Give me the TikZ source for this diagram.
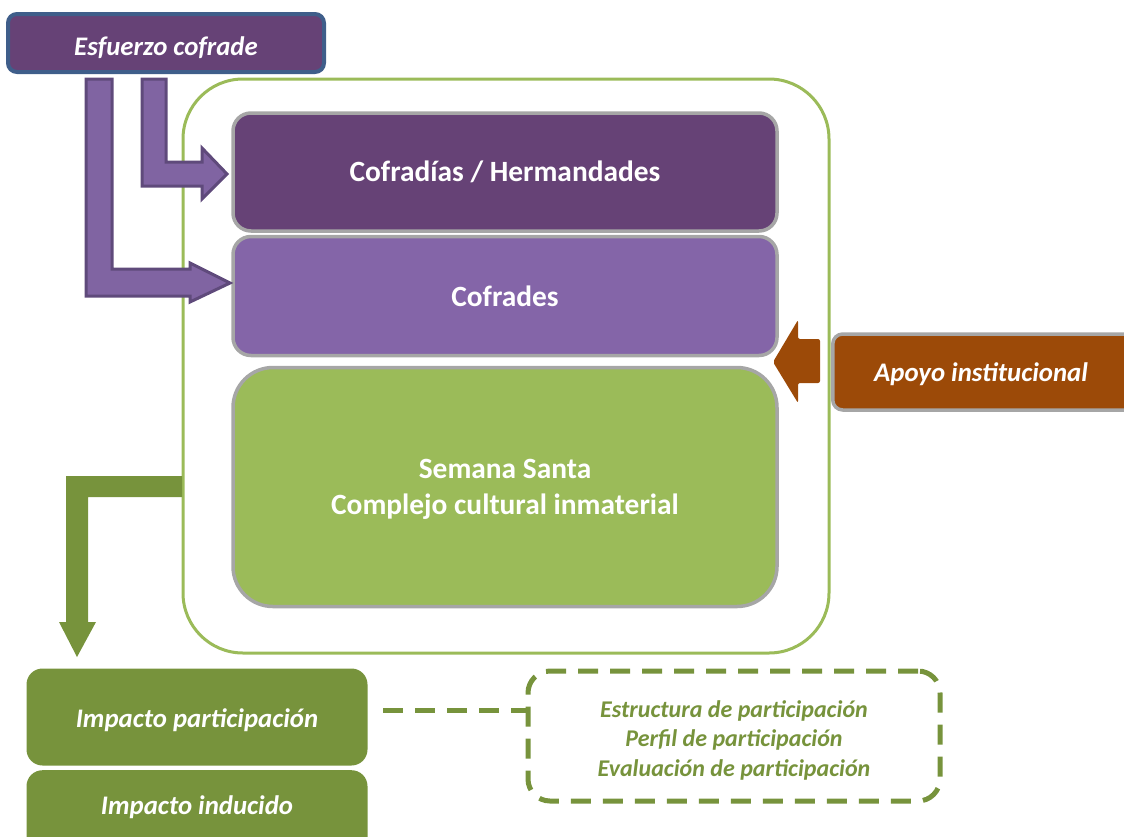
\documentclass[tikz,border=0pt]{standalone}
\usepackage{fontspec}
\setmainfont{Carlito}
\usetikzlibrary{calc}
\definecolor{dpurple}{HTML}{664276}
\definecolor{mpurple}{HTML}{8465A8}
\definecolor{apurple}{HTML}{8064A2}
\definecolor{astroke}{HTML}{5F4A7B}
\definecolor{eborder}{HTML}{3F5E8A}
\definecolor{lgreen}{HTML}{9BBB59}
\definecolor{dgreen}{HTML}{77933C}
\definecolor{brown}{HTML}{9C4A08}
\definecolor{gborder}{HTML}{A6A6A6}
\tikzset{
  box/.style={draw=gborder, line width=3.5pt, text=white, font=\bfseries\fontsize{29.4}{36}\selectfont, align=center, inner sep=0pt},
  ibox/.style={text=white, font=\bfseries\itshape\fontsize{26.8}{32}\selectfont, align=center, inner sep=0pt},
  purparrow/.style={fill=apurple, draw=astroke, line width=3pt, line join=miter},
  greenarrow/.style={fill=dgreen, draw=none},
  dashline/.style={draw=dgreen, line width=5pt, dash pattern=on 20pt off 12pt}
}
\begin{document}
\begin{tikzpicture}[x=1pt,y=-1pt]
\useasboundingbox (0,0) rectangle (1124,836);
% outer green frame
\draw[lgreen, line width=3pt, rounded corners=60pt] (183,79) rectangle (829,653);
% inner boxes
\node[box, fill=dpurple, rounded corners=18pt, minimum width=544pt, minimum height=118pt] (cof) at (505,172) {Cofradías / Hermandades};
\node[box, fill=mpurple, rounded corners=18pt, minimum width=544pt, minimum height=119pt] (cfr) at (505,296) {Cofrades};
\node[box, fill=lgreen, rounded corners=40pt, minimum width=544pt, minimum height=239pt] (ss) at (505,487) {};
\node[box, draw=none] (sst) at (505,489) {Semana Santa\\Complejo cultural inmaterial};
% Esfuerzo cofrade
\node[draw=eborder, fill=dpurple, line width=4pt, rounded corners=9pt, minimum width=316pt, minimum height=58pt] (esf) at (166,43) {};
\node[ibox] (esft) at (166,48) {Esfuerzo cofrade};
% Apoyo institucional
\node[draw=gborder, fill=brown, line width=3.5pt, rounded corners=10pt, minimum width=310pt, minimum height=76pt, anchor=west] (apo) at (831,372) {};
\node[ibox] (apot) at (981,374) {Apoyo institucional};
% purple arrows
\draw[purparrow] (142,79) -- (166,79) -- (166,162) -- (202,162) -- (202,148) -- (227,174) -- (202,199) -- (202,186) -- (142,186) -- cycle;
\draw[purparrow] (86,79) -- (112,79) -- (112,269) -- (190,269) -- (190,263) -- (230,283) -- (190,302) -- (190,296) -- (86,296) -- cycle;
% brown arrow
\fill[brown, rounded corners=2pt] (820,339) -- (820,383) -- (798,383) -- (798,403) -- (773,362) -- (798,320) -- (798,339) -- cycle;
% green arrow
\fill[greenarrow] (182,476) -- (182,497) -- (88,497) -- (88,622) -- (96,622) -- (77,657) -- (59,622) -- (66,622) -- (66,476) -- cycle;
% impact boxes
\node[fill=dgreen, rounded corners=16pt, minimum width=341pt, minimum height=97pt] (ip) at (197,717) {};
\node[ibox] (ipt) at (197,720) {Impacto participación};
\node[fill=dgreen, rounded corners=16pt, minimum width=341pt, minimum height=90pt, anchor=north] (ii) at (197,770) {};
\node[ibox] (iit) at (197,807) {Impacto inducido};
% dashed box
\node[draw=dgreen, line width=5pt, dash pattern=on 20pt off 12pt, rounded corners=22pt, minimum width=412pt, minimum height=130pt] (db) at (734,736) {};
\node[text=dgreen, font=\bfseries\itshape\fontsize{24}{29.5}\selectfont, align=center, inner sep=0pt] (dbt) at (734,740) {Estructura de participación\\Perfil de participación\\Evaluación de participación};
\coordinate (d1) at (383,710);
\draw[dashline] (d1) -- (db.west |- d1);
\end{tikzpicture}
\end{document}
